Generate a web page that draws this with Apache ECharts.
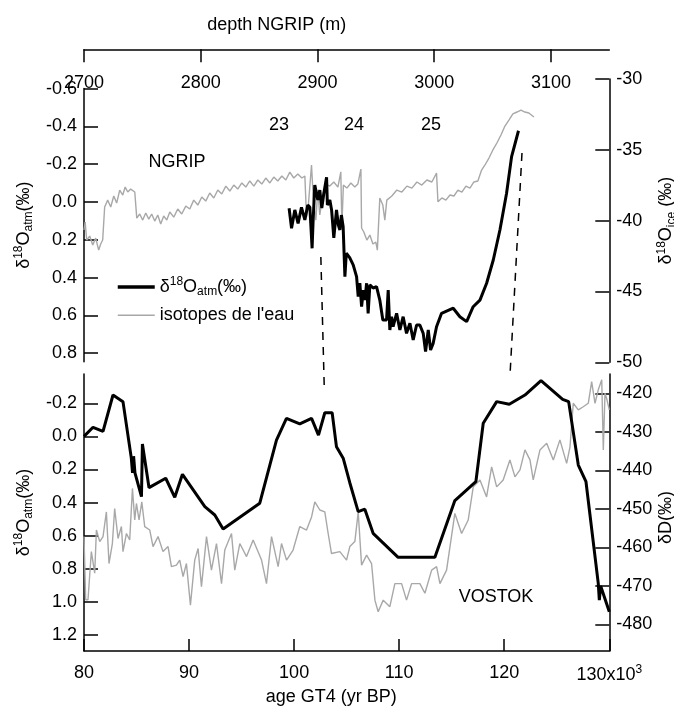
<!DOCTYPE html>
<html>
<head>
<meta charset="utf-8">
<script src="https://cdn.jsdelivr.net/npm/echarts@6/dist/echarts.min.js"></script>
<style>
	html, body { margin: 0; padding: 0; background: #fff; }
	#chart { width: 674px; height: 706px; }
</style>
</head>
<body>
<div id="chart"></div>
<script>
	// tick values
	var depthTicks = [2700, 2800, 2900, 3000, 3100];
	var ageTicks = [80, 90, 100, 110, 120, 130];
	var atmTopTicks = [-0.6, -0.4, -0.2, 0, 0.2, 0.4, 0.6, 0.8];
	var iceTicks = [-50, -45, -40, -35, -30];
	var atmBottomTicks = [-0.2, 0, 0.2, 0.4, 0.6, 0.8, 1.0, 1.2];
	var dDTicks = [-480, -470, -460, -450, -440, -430, -420];

	// NGRIP water isotopes, [depth m, d18O ice]
	var ngripIce = [
		[2700,-40.66],[2701,-40.1],[2702.3,-41.37],[2704.9,-41.09],[2707.5,-41.72],[2710,-41.23],[2712.6,-42.08],
		[2714.3,-41.65],[2716,-41.37],[2717.7,-39.04],[2720.3,-38.55],[2722.9,-39.04],[2725.5,-38.26],[2728,-38.76],
		[2730.6,-37.84],[2733.2,-38.19],[2735.3,-37.63],[2737.5,-37.98],[2740,-37.77],[2743.5,-37.98],[2745.2,-39.82],
		[2747.7,-39.53],[2750.3,-39.96],[2752.9,-39.46],[2755.5,-39.89],[2758,-39.53],[2760.6,-40.03],[2763.2,-39.6],
		[2765.7,-40.24],[2768.3,-39.67],[2770.9,-39.96],[2773.5,-39.39],[2776.9,-39.75],[2780.3,-39.18],[2783.7,-39.53],
		[2787.2,-38.97],[2790.6,-39.18],[2794,-38.55],[2797.5,-38.9],[2800.9,-38.33],[2804.3,-38.62],[2807.7,-38.05],
		[2811.2,-38.4],[2814.6,-37.84],[2818,-38.12],[2821.5,-37.56],[2824.9,-37.91],[2828.3,-37.49],[2831.7,-37.77],
		[2835.2,-37.34],[2838.6,-37.63],[2842,-37.2],[2845.5,-37.56],[2848.9,-37.13],[2852.3,-37.42],[2855.7,-36.99],
		[2859.2,-37.34],[2862.6,-36.92],[2866,-37.2],[2869.5,-36.85],[2872.9,-37.13],[2876.3,-36.57],[2879.7,-36.99],
		[2883.2,-36.71],[2886.6,-36.99],[2889.2,-36.85],[2890.6,-39.72],[2892.2,-38.9],[2894.9,-36.07],[2896.5,-38.55],
		[2898.6,-39.96],[2900.3,-37.84],[2902,-39.6],[2904.6,-38.19],[2907.2,-37.42],[2910.6,-37.56],[2914,-37.27],
		[2917.5,-37.63],[2920,-36.55],[2920.9,-40.43],[2922.2,-37.49],[2925.2,-37.7],[2928.6,-37.34],[2932,-37.63],
		[2934.6,-37.42],[2937.2,-36.36],[2937.8,-40.52],[2939.7,-40.8],[2942.3,-41.37],[2944.9,-41.02],[2947.5,-41.65],
		[2950,-41.51],[2951.3,-42.08],[2953.4,-38.4],[2956,-38.9],[2957.7,-39.96],[2959.4,-38.55],[2963.7,-38.26],
		[2968,-37.84],[2972.3,-37.98],[2976.6,-37.56],[2980.9,-37.7],[2985.2,-37.27],[2989.4,-37.49],[2993.7,-37.13],
		[2998,-37.27],[3002,-36.64],[3003.2,-38.67],[3006.6,-38.4],[3010,-38.55],[3013.5,-38.19],[3016.9,-38.26],
		[3020.3,-37.84],[3023.7,-37.98],[3027.2,-37.56],[3030.6,-37.7],[3034,-37.27],[3037.4,-37.2],[3040.6,-36.43],
		[3043.5,-36.07],[3046.9,-35.58],[3050.3,-35.01],[3053.7,-34.52],[3057.2,-33.95],[3060.6,-33.32],[3064,-32.9],
		[3067.4,-32.47],[3070.9,-32.33],[3074.3,-32.19],[3077.7,-32.33],[3081.1,-32.4],[3085.4,-32.68]
	];

	// NGRIP d18O atm, [depth m, permil]
	var ngripAtm = [
		[2875.7,0.033],[2877.8,0.139],[2880.6,0.042],[2883.4,0.113],[2886.3,0.028],[2889.2,0.095],[2891.7,0.016],
		[2893.5,0.028],[2895.4,0.245],[2896.3,0.095],[2897.7,-0.09],[2900.3,-0.011],[2902,-0.063],[2903.7,0.032],
		[2905.5,-0.048],[2907.8,-0.131],[2908.5,0.016],[2910.6,-0.011],[2912.1,0.042],[2914,0.19],[2916.3,0.042],
		[2917.9,0.122],[2919.2,0.148],[2920.5,0.069],[2922,0.131],[2923.5,0.395],[2924.7,0.271],[2927.7,0.296],
		[2930.6,0.333],[2933.5,0.395],[2934.9,0.501],[2936.3,0.429],[2937.8,0.554],[2939.3,0.466],[2940.6,0.519],
		[2942.1,0.43],[2943.4,0.589],[2944.9,0.439],[2947.7,0.455],[2950.6,0.448],[2953.4,0.519],[2956,0.624],
		[2959.2,0.624],[2960.6,0.466],[2962,0.677],[2963.5,0.607],[2964.8,0.66],[2967.8,0.589],[2970.6,0.677],
		[2973.4,0.607],[2976.3,0.695],[2979.2,0.642],[2982,0.73],[2984.9,0.651],[2987.7,0.651],[2990.6,0.695],
		[2992.6,0.792],[2994.9,0.677],[2996.9,0.783],[2999.1,0.748],[3002,0.66],[3006.3,0.589],[3016.3,0.562],
		[3022,0.607],[3027.8,0.633],[3033.4,0.554],[3039.2,0.519],[3044.9,0.43],[3050.6,0.307],[3056.3,0.148],
		[3062,-0.046],[3066.3,-0.24],[3072.2,-0.377]
	];

	// Vostok deuterium, [age kyr, dD permil]
	var vostokD = [
		[80,-457.2],[80.16,-473.6],[80.38,-473.6],[80.7,-461.1],[81.02,-466.7],[81.18,-455.5],[81.5,-458.5],
		[81.81,-457.2],[82.13,-450.8],[82.38,-464.2],[82.7,-459],[82.92,-449.9],[83.24,-457.7],[83.56,-454.6],
		[83.71,-461.1],[84.04,-456.4],[84.35,-458.1],[84.61,-444.7],[84.83,-452.9],[84.99,-448.6],[85.24,-452.9],
		[85.5,-448.2],[85.78,-454.6],[86.26,-455.5],[86.57,-459.8],[87.05,-457.2],[87.52,-461.1],[88,-459.8],
		[88.32,-465],[88.8,-464.6],[89.11,-463.3],[89.43,-467.6],[89.75,-464.2],[90.13,-475],[90.54,-463.3],
		[90.86,-460.3],[91.18,-470.2],[91.66,-457.2],[92.13,-465.9],[92.61,-459],[93.09,-469.4],[93.4,-460.7],
		[94.04,-456.4],[94.35,-465.9],[94.83,-459],[95.47,-462.4],[96.1,-458.1],[96.9,-463.3],[97.37,-469.4],
		[97.85,-457.2],[98.48,-465],[98.8,-459],[99.28,-463.3],[99.9,-460.7],[100.54,-454.6],[101.18,-455.5],
		[101.66,-452.1],[101.97,-448.2],[102.45,-450.3],[102.92,-450.8],[103.24,-456.4],[103.56,-461.6],
		[104.35,-461.1],[104.99,-463.3],[105.3,-459.8],[105.78,-458.5],[106.1,-450.8],[106.42,-464.6],[106.9,-462],
		[107.37,-464.2],[107.69,-473.7],[108,-476.7],[108.48,-473.7],[109.11,-475.4],[109.59,-469.4],[110.23,-469.4],
		[110.7,-473.7],[111.18,-469.4],[111.97,-469.4],[112.45,-471.9],[113.09,-465.9],[113.56,-465],[113.88,-469.4],
		[114.51,-465.9],[115.3,-451.2],[115.94,-456.4],[116.57,-452.9],[117.05,-444.3],[117.69,-442.5],[118.32,-446.9],
		[118.8,-439.1],[119.28,-444.3],[119.9,-442.5],[120.54,-437.3],[121.02,-441.7],[121.5,-439.9],[121.97,-434.7],
		[122.45,-437.3],[122.76,-442.5],[123.4,-434.7],[124.04,-433],[124.67,-437.3],[125.3,-432.1],[125.94,-438.2],
		[126.26,-433.9],[126.57,-422.6],[127.05,-424.3],[127.52,-423.5],[128,-422.6],[128.32,-417],[128.64,-422.6],
		[128.95,-419.1],[129.28,-416.5],[129.43,-434.7],[129.59,-420],[129.78,-421.7],[130,-424.3]
	];

	// Vostok d18O atm, [age kyr, permil]
	var vostokAtm = [
		[80,0],[80.86,-0.055],[81.81,-0.03],[82.76,-0.25],[83.71,-0.21],[84.5,0.13],[84.62,0.22],[84.72,0.12],
		[84.85,0.22],[85.47,0.364],[85.56,0.046],[86.19,0.31],[87.78,0.253],[88.64,0.368],[89.37,0.229],[91.5,0.425],
		[92.45,0.475],[93.24,0.56],[96.73,0.404],[98.32,0.022],[99.27,-0.109],[100.54,-0.075],[101.66,-0.109],
		[102.32,-0.008],[102.92,-0.143],[103.62,-0.143],[104.03,0.062],[104.67,0.132],[105.3,0.28],[106.1,0.455],
		[106.73,0.44],[107.52,0.586],[109.9,0.731],[113.4,0.731],[115.3,0.388],[117.3,0.274],[118,-0.079],
		[119.28,-0.21],[120.48,-0.194],[121.97,-0.25],[123.5,-0.337],[125.56,-0.224],[126.13,-0.21],[127.05,0.173],
		[127.78,0.274],[128.95,0.888],[129.05,0.989],[129.18,0.904],[130,1.06]
	];

	// tie points: [depth, d18Oatm] in NGRIP and [age, d18Oatm] in Vostok
	var tieTop = [[2902.9, 0.291], [3075.2, -0.259]];
	var tieBottom = [[102.88, -0.268], [120.54, -0.359]];

	var FONT = '"Liberation Sans", Arial, sans-serif';
	var richName = {
		n: { fontSize: 18, fontFamily: FONT, color: '#000', lineHeight: 22 },
		sup: { fontSize: 12, fontFamily: FONT, color: '#000', lineHeight: 12, verticalAlign: 'top' },
		sub: { fontSize: 12, fontFamily: FONT, color: '#000', lineHeight: 12, verticalAlign: 'bottom' }
	};
	var atmName = '{n|δ}{sup|18}{n|O}{sub|atm}{n|(‰)}';

	function yTicks(vals) {
		return {
			axisLine: { show: true, onZero: false, lineStyle: { color: '#000', width: 1.5 } },
			axisTick: { show: true, inside: true, length: 14, customValues: vals, lineStyle: { color: '#000', width: 1.5 } },
			axisLabel: { customValues: vals, fontSize: 18, fontFamily: FONT, color: '#000', margin: 7 },
			splitLine: { show: false }
		};
	}

	var chart = echarts.init(document.getElementById('chart'), null, { renderer: 'canvas' });

	var yAtmTop = yTicks(atmTopTicks);
	var yIce = yTicks(iceTicks);
	var yAtmBot = yTicks(atmBottomTicks);
	var yDD = yTicks(dDTicks);
	yAtmTop.axisLabel.formatter = function (v) { return v.toFixed(1); };
	yAtmBot.axisLabel.formatter = function (v) { return v.toFixed(1); };

	chart.setOption({
		animation: false,
		backgroundColor: '#fff',
		textStyle: { fontFamily: FONT },
		grid: [
			{ left: 84, right: 64.7, top: 88.6, height: 273.1, outerBoundsMode: 'none', containLabel: false },
			{ left: 84, right: 64.7, top: 79, height: 283.3, outerBoundsMode: 'none', containLabel: false },
			{ left: 84, right: 64.7, top: 374, height: 277, outerBoundsMode: 'none', containLabel: false }
		],
		legend: {
			orient: 'vertical',
			left: 116, top: 276, padding: 0,
			itemWidth: 37, itemHeight: 14, itemGap: 6.3,
			data: [
				{ name: 'δ18Oatm(‰)', lineStyle: { width: 3.5, color: '#000' } },
				{ name: "isotopes de l'eau", lineStyle: { width: 1.5, color: '#a8a8a8' } }
			],
			itemStyle: { color: 'rgba(0,0,0,0)', borderWidth: 0 },
			textStyle: { fontSize: 18, fontFamily: FONT, color: '#000', lineHeight: 22, rich: richName },
			formatter: function (name) { return name === 'δ18Oatm(‰)' ? atmName : name; }
		},
		xAxis: [
			{
				gridIndex: 0, type: 'value', position: 'top', offset: 39.3, min: 2700, max: 3150,
				name: 'depth NGRIP (m)', nameLocation: 'middle', nameGap: 15,
				nameTextStyle: { fontSize: 18, fontFamily: FONT, color: '#000', padding: [0, 140, 0, 0] },
				axisLine: { onZero: false, lineStyle: { color: '#000', width: 1.5 } },
				axisTick: { inside: true, length: 13, customValues: depthTicks, lineStyle: { color: '#000', width: 1.5 } },
				axisLabel: {
					inside: true, margin: 25, customValues: depthTicks, fontSize: 18, fontFamily: FONT, color: '#000',
					formatter: function (v) { return String(v); }
				},
				splitLine: { show: false }
			},
			{ gridIndex: 1, type: 'value', min: 2700, max: 3150, show: false },
			{
				gridIndex: 2, type: 'value', position: 'bottom', min: 80, max: 130,
				name: 'age GT4 (yr BP)', nameLocation: 'middle', nameGap: 37,
				nameTextStyle: { fontSize: 18, fontFamily: FONT, color: '#000', padding: [0, 31, 0, 0] },
				axisLine: { onZero: false, lineStyle: { color: '#000', width: 1.5 } },
				axisTick: { inside: true, length: 12, customValues: ageTicks, lineStyle: { color: '#000', width: 1.5 } },
				axisLabel: {
					customValues: ageTicks, margin: 13, fontSize: 18, fontFamily: FONT, color: '#000',
					formatter: function (v) { return v === 130 ? '{b|130x10}{s|3}' : String(v); },
					rich: {
						b: { fontSize: 18, fontFamily: FONT, color: '#000', lineHeight: 22 },
						s: { fontSize: 12, fontFamily: FONT, color: '#000', lineHeight: 12, verticalAlign: 'top' }
					}
				},
				splitLine: { show: false }
			}
		],
		yAxis: [
			Object.assign({
				gridIndex: 0, type: 'value', position: 'left', inverse: true, min: -0.6, max: 0.845,
				name: atmName, nameLocation: 'middle', nameGap: 42, nameRotate: 90,
				nameTextStyle: { rich: richName }
			}, yAtmTop),
			Object.assign({
				gridIndex: 1, type: 'value', position: 'right', min: -50, max: -30,
				name: '{n|δ}{sup|18}{n|O}{sub|ice}{n| (‰)}', nameLocation: 'middle', nameGap: 46, nameRotate: 90,
				nameTextStyle: { rich: richName }
			}, yIce),
			Object.assign({
				gridIndex: 2, type: 'value', position: 'left', inverse: true, min: -0.377, max: 1.297,
				name: atmName, nameLocation: 'middle', nameGap: 42, nameRotate: 90,
				nameTextStyle: { rich: richName }
			}, yAtmBot),
			Object.assign({
				gridIndex: 2, type: 'value', position: 'right', min: -486.9, max: -415,
				name: '{n|δD(‰)}', nameLocation: 'middle', nameGap: 46, nameRotate: 90, nameMoveOverlap: false,
				nameTextStyle: { rich: richName, padding: [0, 10, 0, 0] }
			}, yDD)
		],
		series: [
			{
				name: "isotopes de l'eau", type: 'line', xAxisIndex: 1, yAxisIndex: 1, data: ngripIce,
				symbol: 'none', lineStyle: { color: '#a8a8a8', width: 1.4 }, itemStyle: { color: '#a8a8a8' }
			},
			{
				name: 'δ18Oatm(‰)', type: 'line', xAxisIndex: 0, yAxisIndex: 0, data: ngripAtm,
				symbol: 'none', lineStyle: { color: '#000', width: 3 }, itemStyle: { color: '#000' }
			},
			{
				name: 'Vostok δD', type: 'line', xAxisIndex: 2, yAxisIndex: 3, data: vostokD,
				symbol: 'none', lineStyle: { color: '#a8a8a8', width: 1.4 }
			},
			{
				name: 'Vostok δ18Oatm', type: 'line', xAxisIndex: 2, yAxisIndex: 2, data: vostokAtm,
				symbol: 'none', lineStyle: { color: '#000', width: 3 }
			}
		]
	});

	// dashed tie lines between the two records
	var graphics = [];
	for (var i = 0; i < tieTop.length; i++) {
		var p1 = chart.convertToPixel({ xAxisIndex: 0, yAxisIndex: 0 }, tieTop[i]);
		var p2 = chart.convertToPixel({ xAxisIndex: 2, yAxisIndex: 2 }, tieBottom[i]);
		graphics.push({
			type: 'line', z: 50,
			shape: { x1: p1[0], y1: p1[1], x2: p2[0], y2: p2[1] },
			style: { stroke: '#000', lineWidth: 1.5, lineDash: [8, 7] }
		});
	}
	var labels = [
		['23', 279, 125], ['24', 354, 125], ['25', 431, 125],
		['NGRIP', 177, 162], ['VOSTOK', 496, 597]
	];
	labels.forEach(function (l) {
		graphics.push({
			type: 'text', x: l[1], y: l[2], z: 50,
			style: { text: l[0], fontSize: 18, fontFamily: FONT, fill: '#000', align: 'center', verticalAlign: 'middle' }
		});
	});
	chart.setOption({ graphic: graphics });
</script>
</body>
</html>
